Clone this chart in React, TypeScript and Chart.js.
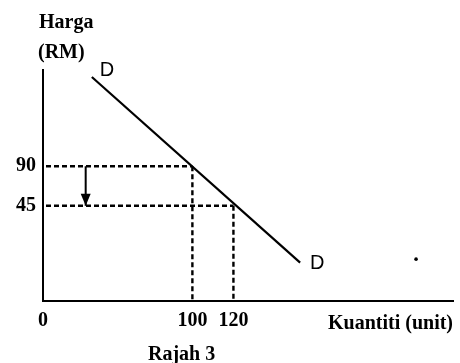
import React, { useEffect, useRef } from 'react';
import { Chart, registerables } from 'chart.js';

Chart.register(...registerables);

// The diagram is not drawn to scale: both axes start at an origin labelled "0".
const X_ORIGIN = 27.2;
const X_END = 227;
const Y_ORIGIN = -63.8;
const Y_END = 200;

const X_TICK_VALUES = [X_ORIGIN, 100, 120];
const X_TICK_LABELS = ['0', '100', '120'];
const Y_TICK_VALUES = [90, 45];
const Y_TICK_LABELS = ['90', '45'];

// Demand curve D (two end points)
const D_X = [51, 152.5];
const D_Y = [192, -20];

// Price / quantity pairs marked with dashed guides
const QUANTITY = [100, 120];
const PRICE = [90, 45];

// Arrow showing the price fall from 90 to 45
const ARROW_X = 48;

// Stray dot at right
const DOT_X = [209];
const DOT_Y = [-16];

const SERIF = '"Liberation Serif", "Times New Roman", serif';
const SANS = '"Liberation Sans", Arial, sans-serif';

const annotations = {
  id: 'annotations',
  afterDatasetsDraw(chart: any) {
    const ctx = chart.ctx;
    const area = chart.chartArea;
    ctx.save();
    ctx.fillStyle = '#000';
    ctx.textBaseline = 'alphabetic';
    ctx.textAlign = 'left';

    // arrow head at the end of the arrow dataset
    const arrowMeta = chart.getDatasetMeta(5);
    const tip = arrowMeta.data[1];
    if (tip) {
      ctx.beginPath();
      ctx.moveTo(tip.x, tip.y);
      ctx.lineTo(tip.x - 5, tip.y - 12);
      ctx.lineTo(tip.x + 5, tip.y - 12);
      ctx.closePath();
      ctx.fill();
    }

    // D labels next to the ends of the demand line
    const dMeta = chart.getDatasetMeta(0);
    const p0 = dMeta.data[0];
    const p1 = dMeta.data[1];
    ctx.font = `20px ${SANS}`;
    if (p0) ctx.fillText('D', p0.x + 8, p0.y - 1);
    if (p1) ctx.fillText('D', p1.x + 10, p1.y + 6);

    // axis titles and caption
    ctx.font = `bold 20px ${SERIF}`;
    ctx.fillText('Harga', area.left - 4, 28);
    ctx.fillText('(RM)', area.left - 5, 58);
    ctx.fillText('Kuantiti (unit)', 328, area.bottom + 28);
    ctx.fillText('Rajah 3', 148, area.bottom + 59);
    ctx.restore();
  },
};

export default function App() {
  const ref = useRef<HTMLCanvasElement | null>(null);

  useEffect(() => {
    if (!ref.current) return;
    const dash = [5, 3];
    const guide = (data: any[], offset: number) => ({
      data,
      showLine: true,
      borderColor: '#000',
      borderWidth: 2.4,
      borderDash: dash,
      borderDashOffset: offset,
      pointRadius: 0,
      fill: false,
    });

    const chart = new Chart(ref.current, {
      type: 'scatter',
      data: {
        datasets: [
          {
            label: 'D',
            data: D_X.map((x, i) => ({ x, y: D_Y[i] })),
            showLine: true,
            borderColor: '#000',
            borderWidth: 2.2,
            pointRadius: 0,
          },
          guide([{ x: X_ORIGIN, y: PRICE[0] }, { x: QUANTITY[0], y: PRICE[0] }], 5),
          guide([{ x: X_ORIGIN, y: PRICE[1] }, { x: QUANTITY[1], y: PRICE[1] }], 5),
          guide([{ x: QUANTITY[0], y: PRICE[0] }, { x: QUANTITY[0], y: Y_ORIGIN }], 0),
          guide([{ x: QUANTITY[1], y: PRICE[1] }, { x: QUANTITY[1], y: Y_ORIGIN }], 0),
          {
            label: 'arrow',
            data: [{ x: ARROW_X, y: PRICE[0] }, { x: ARROW_X, y: PRICE[1] }],
            showLine: true,
            borderColor: '#000',
            borderWidth: 2,
            pointRadius: 0,
          },
          {
            label: 'dot',
            data: DOT_X.map((x, i) => ({ x, y: DOT_Y[i] })),
            pointRadius: 1.8,
            pointBackgroundColor: '#000',
            pointBorderWidth: 0,
          },
        ],
      },
      options: {
        animation: false,
        responsive: false,
        events: [],
        layout: { padding: { top: 70, right: 7, left: 0, bottom: 0 } },
        plugins: { legend: { display: false }, tooltip: { enabled: false }, title: { display: false } },
        scales: {
          x: {
            type: 'linear',
            min: X_ORIGIN,
            max: X_END,
            grid: { display: false, drawTicks: false },
            border: { display: true, color: '#000', width: 2 },
            ticks: {
              color: '#000',
              font: { family: SERIF, size: 20, weight: 'bold' },
              padding: 8,
              autoSkip: false,
              maxRotation: 0,
              callback: (_v: any, i: number) => X_TICK_LABELS[i],
            },
            afterBuildTicks: (s: any) => {
              s.ticks = X_TICK_VALUES.map((value) => ({ value }));
            },
            afterFit: (s: any) => {
              s.height = 62;
            },
          },
          y: {
            type: 'linear',
            min: Y_ORIGIN,
            max: Y_END,
            grid: { display: false, drawTicks: false },
            border: { display: true, color: '#000', width: 2 },
            ticks: {
              color: '#000',
              font: { family: SERIF, size: 20, weight: 'bold' },
              padding: 7,
              autoSkip: false,
              callback: (_v: any, i: number) => Y_TICK_LABELS[i],
            },
            afterBuildTicks: (s: any) => {
              s.ticks = Y_TICK_VALUES.map((value) => ({ value }));
            },
            afterFit: (s: any) => {
              s.width = 43;
            },
          },
        },
      },
      plugins: [annotations],
    } as any);
    return () => chart.destroy();
  }, []);

  return (
    <div style={{ position: 'fixed', left: 0, top: 0, width: 460, height: 363, background: '#fff' }}>
      <canvas ref={ref} width={460} height={363} style={{ width: 460, height: 363 }} />
    </div>
  );
}
